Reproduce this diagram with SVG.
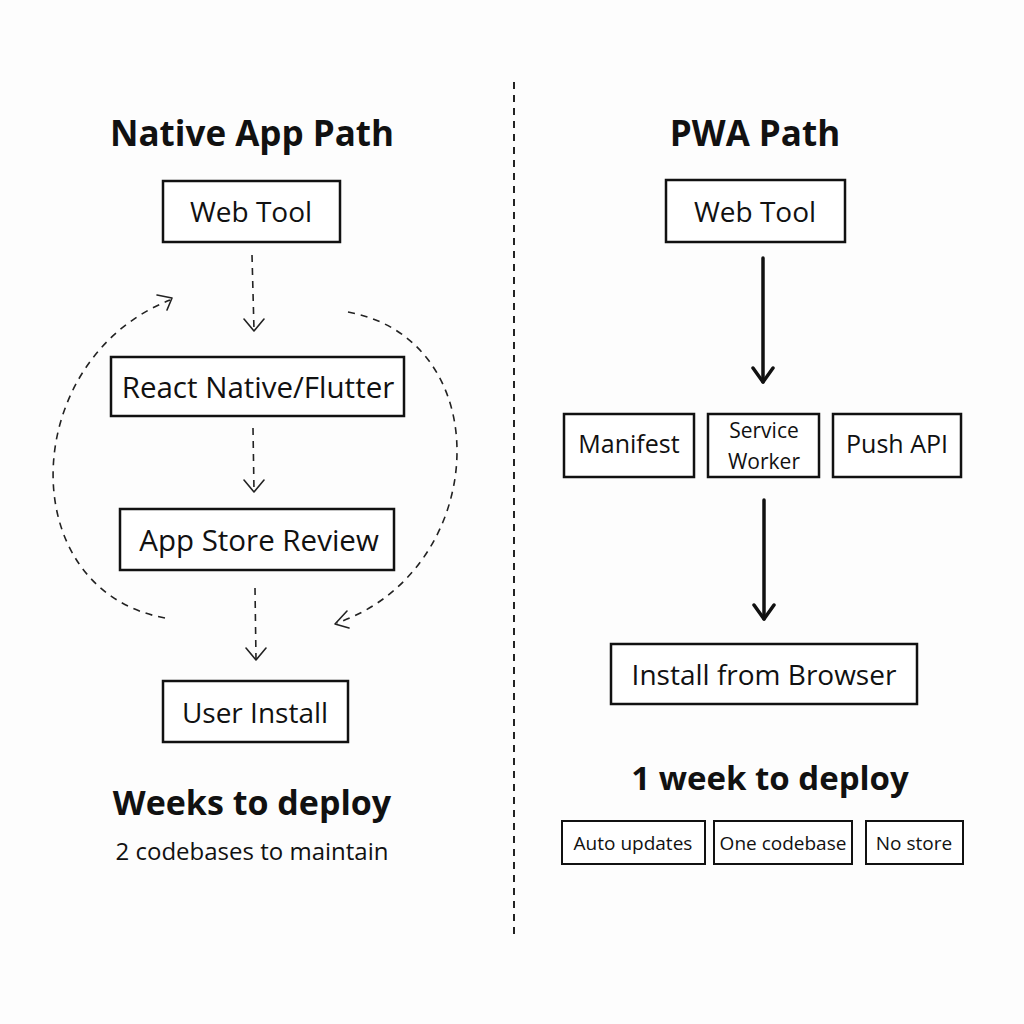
<svg xmlns="http://www.w3.org/2000/svg" width="1024" height="1024" viewBox="0 0 1024 1024">
<style>
.box{fill:#fff;stroke:#111;stroke-width:2.5}
.t{font-family:"Open Sans","Noto Sans",sans-serif;fill:#111;text-anchor:middle}
.title{font-size:35px;font-weight:bold}
.lbl{font-size:28px}
.sm{font-size:21px}
.dash{fill:none;stroke:#222;stroke-width:1.6;stroke-dasharray:7 6}
.solid{fill:none;stroke:#111;stroke-width:3.5;stroke-linecap:round}
.head{fill:none;stroke:#222;stroke-width:1.6;stroke-linecap:round;stroke-linejoin:round}
.headb{fill:none;stroke:#111;stroke-width:3.5;stroke-linecap:round;stroke-linejoin:round}
</style>
<rect width="1024" height="1024" fill="#fdfdfd"/>
<line x1="514" y1="82" x2="514" y2="940" class="dash" style="stroke-width:2"/>

<g id="connectors">
  <line x1="252" y1="255" x2="254" y2="330" class="dash"/>
  <polyline points="244,319 254,331 264,319" class="head"/>
  <line x1="253" y1="428" x2="254" y2="491" class="dash"/>
  <polyline points="244,480 254,492 264,480" class="head"/>
  <line x1="255" y1="588" x2="256" y2="659" class="dash"/>
  <polyline points="246,648 256,660 266,648" class="head"/>
  <path d="M165,618 C 12,590 18,360 170,300" class="dash"/>
  <polyline points="157,295 172,298 167,310" class="head"/>
  <path d="M348,312 C 500,340 490,570 337,623" class="dash"/>
  <polyline points="347,611 335,624 349,628" class="head"/>
  <line x1="763" y1="258" x2="763" y2="382" class="solid"/>
  <polyline points="753,368 763,382 773,368" class="headb"/>
  <line x1="764" y1="500" x2="764" y2="619" class="solid"/>
  <polyline points="754,605 764,619 774,605" class="headb"/>
</g>

<g id="native-title"><text x="252" y="146" class="t title">Native App Path</text></g>
<g id="pwa-title"><text x="755" y="146" class="t title">PWA Path</text></g>

<g id="n-webtool"><rect x="163" y="181" width="177" height="61" class="box"/><text x="251" y="222" class="t lbl">Web Tool</text></g>
<g id="n-react"><rect x="111" y="357" width="293" height="59" class="box"/><text x="258" y="398" class="t lbl" style="font-size:29.5px">React Native/Flutter</text></g>
<g id="n-review"><rect x="120" y="509" width="274" height="61" class="box"/><text x="259" y="551" class="t lbl" style="font-size:29.5px">App Store Review</text></g>
<g id="n-install"><rect x="163" y="681" width="185" height="61" class="box"/><text x="255" y="723" class="t lbl">User Install</text></g>
<g id="n-weeks"><text x="252" y="815" class="t title" style="font-size:34px">Weeks to deploy</text></g>
<g id="n-codebases"><text x="252" y="860" class="t" style="font-size:24px">2 codebases to maintain</text></g>

<g id="p-webtool"><rect x="666" y="180" width="179" height="62" class="box"/><text x="755" y="222" class="t lbl">Web Tool</text></g>
<g id="p-manifest"><rect x="564" y="414" width="130" height="63" class="box"/><text x="629" y="453" class="t" style="font-size:25px">Manifest</text></g>
<g id="p-sw"><rect x="708" y="414" width="111" height="63" class="box"/><text x="764" y="438" class="t sm">Service</text><text x="764" y="469" class="t sm">Worker</text></g>
<g id="p-push"><rect x="833" y="414" width="128" height="63" class="box"/><text x="897" y="453" class="t" style="font-size:25px">Push API</text></g>
<g id="p-install"><rect x="611" y="644" width="306" height="60" class="box"/><text x="764" y="685" class="t lbl">Install from Browser</text></g>
<g id="p-week"><text x="770" y="790" class="t title" style="font-size:33px">1 week to deploy</text></g>
<g id="p-auto"><rect x="562" y="821" width="143" height="43" class="box" style="stroke-width:2"/><text x="633" y="850" class="t" style="font-size:19px">Auto updates</text></g>
<g id="p-one"><rect x="714" y="821" width="138" height="43" class="box" style="stroke-width:2"/><text x="783" y="850" class="t" style="font-size:19px">One codebase</text></g>
<g id="p-nostore"><rect x="866" y="821" width="97" height="43" class="box" style="stroke-width:2"/><text x="914" y="850" class="t" style="font-size:19px">No store</text></g>
</svg>
